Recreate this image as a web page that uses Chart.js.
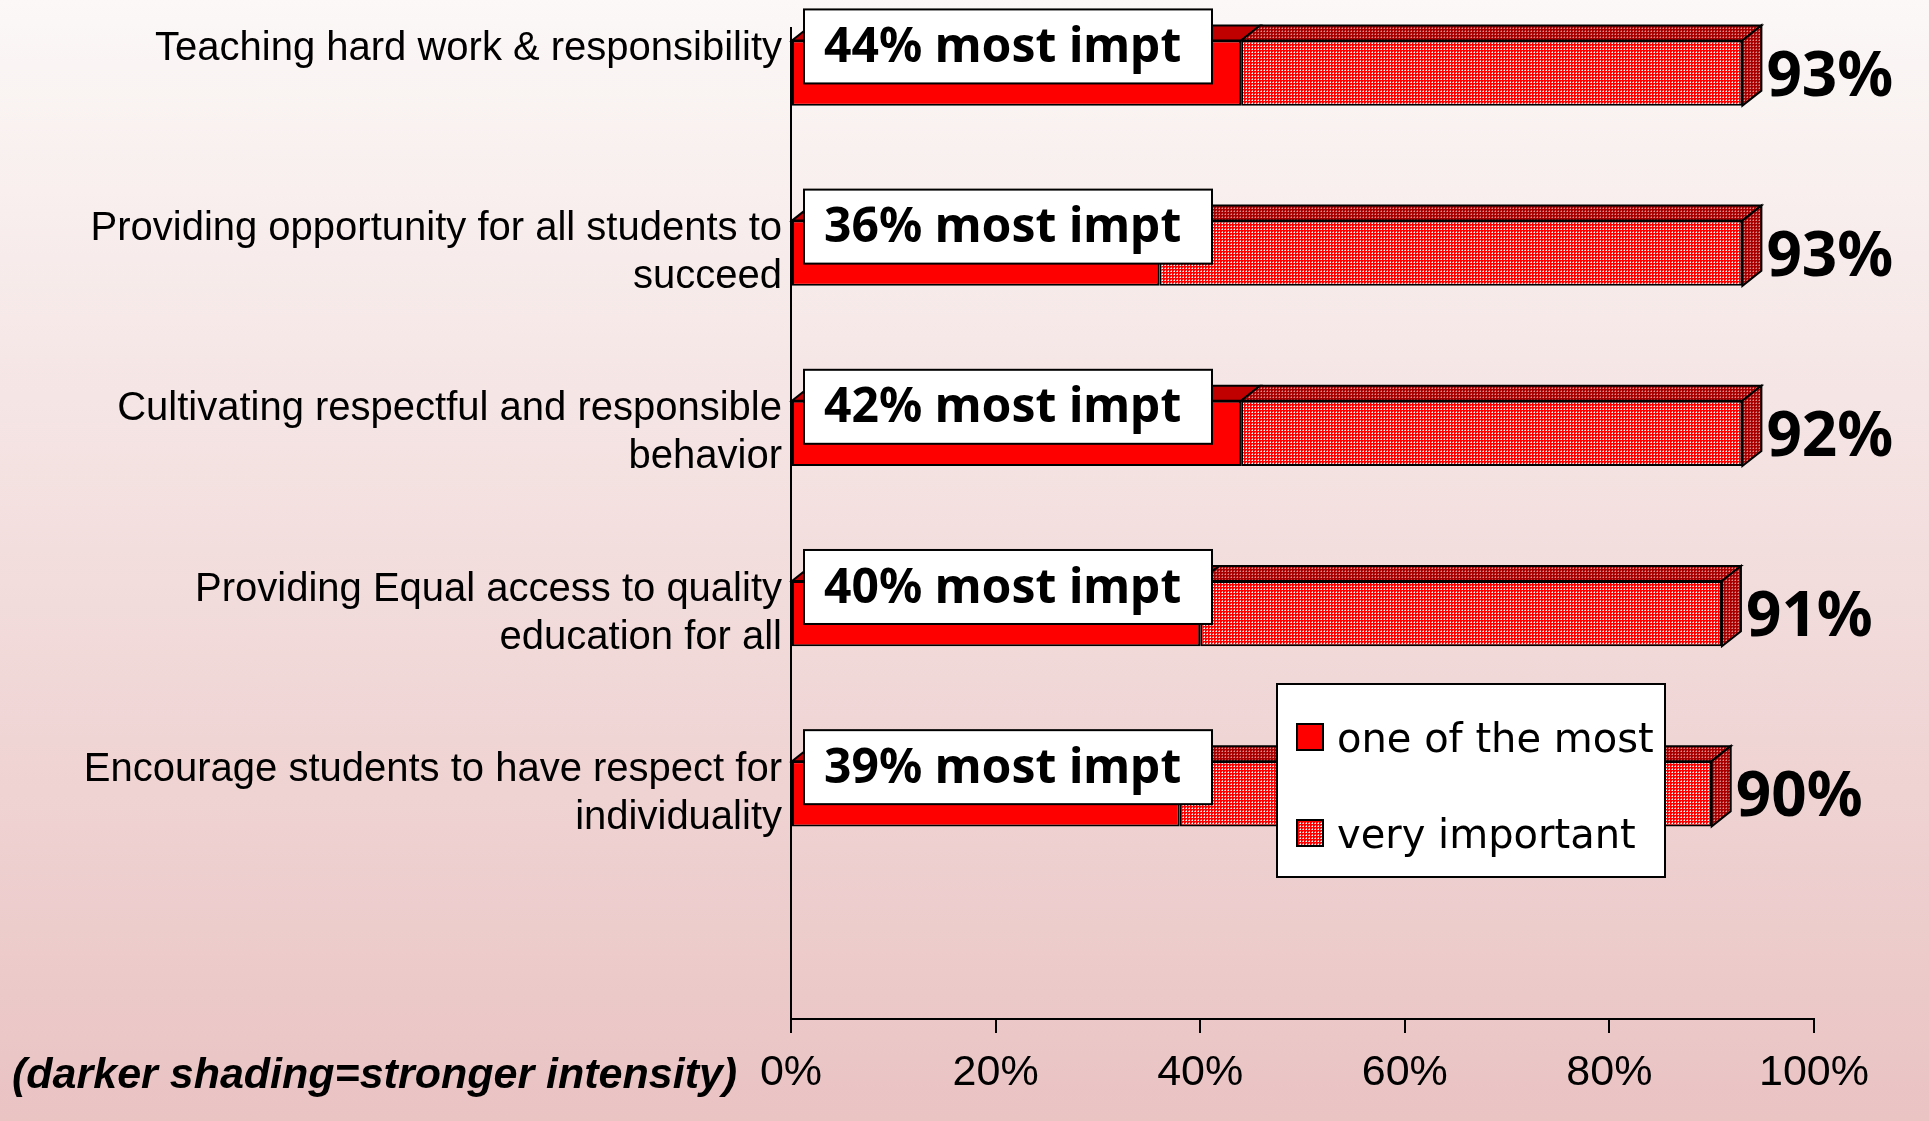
<!DOCTYPE html>
<html>
<head>
<meta charset="utf-8">
<script src="https://cdn.jsdelivr.net/npm/chart.js@4.4.1/dist/chart.umd.min.js"></script>
<style>
    html, body { margin: 0; padding: 0; }
    body { width: 1929px; height: 1121px; background: linear-gradient(#fbf8f7, #eac3c3); }
</style>
</head>
<body>
<canvas id="bar-chart" width="1929" height="1121"></canvas>
<script>
const categories = [
    ['Teaching hard work & responsibility', ''],
    ['Providing opportunity for all students to', 'succeed'],
    ['Cultivating respectful and responsible', 'behavior'],
    ['Providing Equal access to quality', 'education for all'],
    ['Encourage students to have respect for', 'individuality']
];
const mostImportant = [44, 36, 44, 40, 38];
const veryImportant = [49, 57, 49, 51, 52];
const mostLabels = ['44% most impt', '36% most impt', '42% most impt', '40% most impt', '39% most impt'];
const totalLabels = ['93%', '93%', '92%', '91%', '90%'];
const xTicks = [0, 20, 40, 60, 80, 100];
const footnote = '(darker shading=stronger intensity)';

const sans = "'Liberation Sans', Arial, sans-serif";
const depthX = 19, depthY = 15;

function makePattern(bg, dot, mid) {
    const c = document.createElement('canvas');
    c.width = 3; c.height = 3;
    const g = c.getContext('2d');
    g.fillStyle = bg; g.fillRect(0, 0, 3, 3);
    g.fillStyle = mid; g.fillRect(0, 1, 1, 1); g.fillRect(1, 0, 1, 1);
    g.fillStyle = dot; g.fillRect(1, 1, 1, 1);
    return g.createPattern(c, 'repeat');
}

const frontDots = makePattern('#ff0000', '#ffffff', '#ff9090');
const darkDots = makePattern('#a80000', '#e08a8a', '#c04848');

function face(ctx, pts, fill) {
    ctx.beginPath();
    ctx.moveTo(pts[0][0], pts[0][1]);
    for (let i = 1; i < pts.length; i++) ctx.lineTo(pts[i][0], pts[i][1]);
    ctx.closePath();
    ctx.fillStyle = fill;
    ctx.fill();
    ctx.lineWidth = 2;
    ctx.strokeStyle = '#000';
    ctx.stroke();
}

// top and end faces of the 3d bars
const bar3d = {
    id: 'bar3d',
    afterDatasetsDraw(chart) {
        const ctx = chart.ctx;
        const n = chart.data.datasets.length;
        ctx.save();
        chart.data.datasets.forEach((ds, di) => {
            chart.getDatasetMeta(di).data.forEach(el => {
                const top = el.y - el.height / 2, bottom = el.y + el.height / 2;
                face(ctx, [[el.base, top], [el.x, top], [el.x + depthX, top - depthY], [el.base + depthX, top - depthY]], ds.topColor);
                if (di === n - 1) {
                    face(ctx, [[el.x, top], [el.x + depthX, top - depthY], [el.x + depthX, bottom - depthY], [el.x, bottom]], ds.sideColor);
                }
            });
        });
        ctx.restore();
    }
};

// boxes, end values, footnote and legend
const annotations = {
    id: 'annotations',
    afterDraw(chart) {
        const ctx = chart.ctx;
        const area = chart.chartArea;
        ctx.save();
        const front = chart.getDatasetMeta(0).data;
        const back = chart.getDatasetMeta(1).data;
        front.forEach((el, i) => {
            const top = el.y - el.height / 2;
            const bx = area.left + 13, bw = 408, bh = 74, by = top + 6 - bh / 2;
            ctx.fillStyle = '#fff';
            ctx.fillRect(bx, by, bw, bh);
            ctx.lineWidth = 2;
            ctx.strokeStyle = '#000';
            ctx.strokeRect(bx, by, bw, bh);
            ctx.fillStyle = '#000';
            ctx.font = "bold 48px 'Noto Sans'";
            ctx.textBaseline = 'middle';
            ctx.textAlign = 'left';
            ctx.fillText(mostLabels[i], bx + 20, by + bh / 2 + 2);
        });
        back.forEach((el, i) => {
            ctx.fillStyle = '#000';
            ctx.font = "bold 62px 'Noto Sans'";
            ctx.textBaseline = 'middle';
            ctx.fillText(totalLabels[i], el.x + depthX + 5, el.y + 5);
        });

        ctx.font = 'italic bold 43px ' + sans;
        ctx.textBaseline = 'middle';
        ctx.fillText(footnote, 12, 1076);

        // legend
        const lx = 1277, ly = 684, lw = 388, lh = 193;
        ctx.fillStyle = '#fff';
        ctx.fillRect(lx, ly, lw, lh);
        ctx.lineWidth = 2;
        ctx.strokeStyle = '#000';
        ctx.strokeRect(lx, ly, lw, lh);
        ctx.font = "40px 'DejaVu Sans'";
        ctx.textBaseline = 'alphabetic';
        chart.data.datasets.forEach((ds, di) => {
            const cy = 737 + di * 96;
            ctx.fillStyle = ds.backgroundColor;
            ctx.fillRect(lx + 20, cy - 13, 26, 26);
            ctx.strokeRect(lx + 20, cy - 13, 26, 26);
            ctx.fillStyle = '#000';
            ctx.fillText(ds.label, lx + 60, cy + 15);
        });
        ctx.restore();
    }
};

const data = {
    datasets: [
        {
            label: 'one of the most',
            data: mostImportant.map((v, i) => ({ x: v, y: i })),
            backgroundColor: '#ff0000',
            topColor: '#c00000',
            sideColor: '#c00000',
            borderColor: '#000',
            borderWidth: 2,
            borderSkipped: false
        },
        {
            label: 'very important',
            data: veryImportant.map((v, i) => ({ x: v, y: i })),
            backgroundColor: frontDots,
            topColor: darkDots,
            sideColor: darkDots,
            borderColor: '#000',
            borderWidth: 2,
            borderSkipped: false
        }
    ]
};

const config = {
    type: 'bar',
    data: data,
    plugins: [bar3d, annotations],
    options: {
        indexAxis: 'y',
        responsive: false,
        animation: false,
        layout: { padding: { top: 28, left: 0, right: 115, bottom: 0 } },
        datasets: { bar: { categoryPercentage: 1, barPercentage: 0.362 } },
        plugins: { legend: { display: false }, tooltip: { enabled: false } },
        scales: {
            x: {
                type: 'linear',
                stacked: true,
                min: 0,
                max: 100,
                afterBuildTicks(scale) { scale.ticks = xTicks.map(v => ({ value: v })); },
                afterFit(scale) { scale.height = 102; scale.paddingLeft = 0; scale.paddingRight = 0; },
                grid: { drawOnChartArea: false, tickLength: 14, color: '#000', lineWidth: 2 },
                border: { color: '#000', width: 2 },
                ticks: {
                    color: '#000',
                    padding: 14,
                    maxRotation: 0,
                    font: { family: sans, size: 43, lineHeight: 1.2 },
                    callback: v => v + '%'
                }
            },
            y: {
                type: 'linear',
                stacked: true,
                reverse: true,
                offset: false,
                min: -0.25,
                max: 5.25,
                afterBuildTicks(scale) { scale.ticks = categories.map((c, i) => ({ value: i })); },
                afterFit(scale) { scale.width = 791; scale.paddingTop = 0; scale.paddingBottom = 0; },
                grid: { display: false, drawTicks: false, offset: false },
                border: { color: '#000', width: 2 },
                ticks: {
                    color: '#000',
                    padding: 9,
                    font: { family: sans, size: 40, lineHeight: '48px' },
                    callback: v => categories[v]
                }
            }
        }
    }
};

const barChart = document.querySelector('#bar-chart');
if (barChart) {
    const barChartOb = new Chart(barChart, config);
}
</script>
</body>
</html>
